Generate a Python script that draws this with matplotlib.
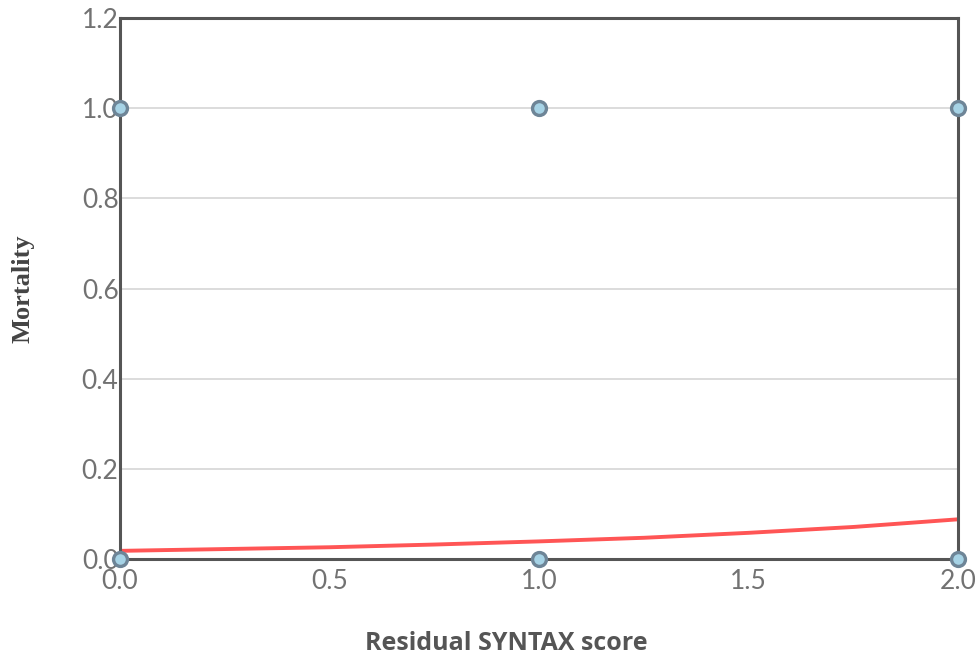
import matplotlib
matplotlib.use("Agg")
import matplotlib.pyplot as plt

# observed outcomes (0 = survived, 1 = died) per residual SYNTAX score
score_obs = [0.0, 1.0, 2.0, 0.0, 1.0, 2.0]
mortality_obs = [1.0, 1.0, 1.0, 0.0, 0.0, 0.0]

# fitted logistic curve, read at a few scores
score_fit = [0.0, 0.25, 0.5, 0.75, 1.0, 1.25, 1.5, 1.75, 2.0]
mortality_fit = [0.018, 0.022, 0.026, 0.032, 0.039, 0.047, 0.058, 0.071, 0.088]

x_ticks = [0.0, 0.5, 1.0, 1.5, 2.0]
y_ticks = [0.0, 0.2, 0.4, 0.6, 0.8, 1.0, 1.2]

fig = plt.figure(figsize=(9.77, 6.58), dpi=100)
ax = fig.add_axes([0.1228, 0.1505, 0.858, 0.8221])

for y in y_ticks[1:-1]:
    ax.axhline(y, color="#dcdcdc", lw=1.4, zorder=0)

ax.plot(score_fit, mortality_fit, color="#ff2a2a", lw=2.8, alpha=0.8,
        zorder=2, solid_capstyle="butt")
ax.plot(score_obs, mortality_obs, "o", ms=10, mfc="#a6d3e6", mec="#6e8597",
        mew=2.4, clip_on=False, zorder=4)

ax.set_xlim(0, 2)
ax.set_ylim(0, 1.2)
ax.set_xticks(x_ticks)
ax.set_yticks(y_ticks)
ax.set_xticklabels([f"{v:.1f}" for v in x_ticks])
ax.set_yticklabels([f"{v:.1f}" for v in y_ticks])
ax.tick_params(length=0, labelsize=19, labelcolor="#727272")
ax.tick_params(axis="x", pad=7)
ax.tick_params(axis="y", pad=1)
for lab in ax.get_xticklabels() + ax.get_yticklabels():
    lab.set_family("Lato")

for s in ax.spines.values():
    s.set_color("#555555")
    s.set_linewidth(2.2)
    s.set_zorder(3)

fig.text(0.024, 0.562, "Mortality", rotation=90, ha="center", va="center",
         fontsize=19, fontweight="bold", family="Liberation Serif",
         color="#444444")
fig.text(0.518, 0.022, "Residual SYNTAX score", ha="center", va="center",
         fontsize=18, fontweight="bold", family="Open Sans", color="#555555")

fig.savefig("out.png", dpi=100)
